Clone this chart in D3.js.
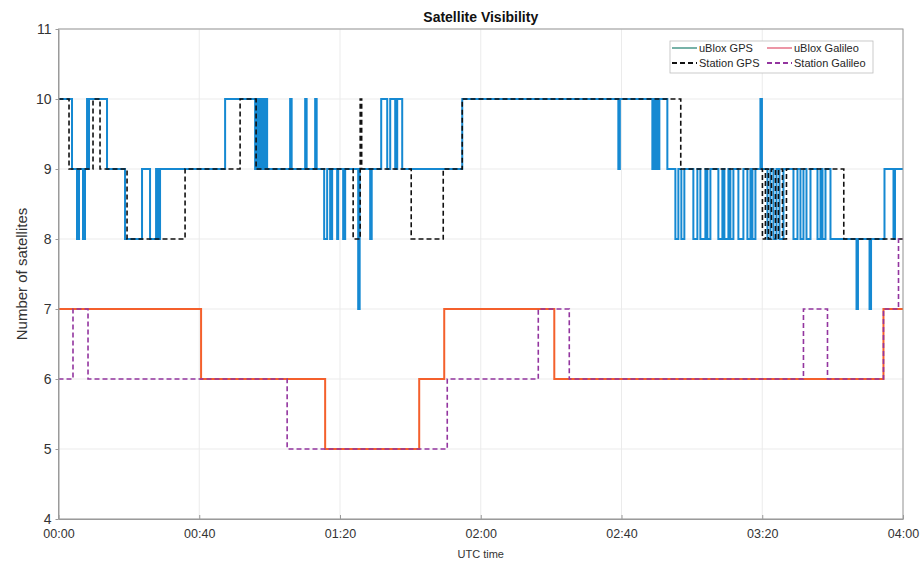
<!DOCTYPE html>
<html>
<head>
<meta charset="utf-8">
<script src="https://cdn.jsdelivr.net/npm/d3@7"></script>
<style>
  body { margin: 0; background: #fff; }
  svg text { font-family: "Liberation Sans", Arial, sans-serif; }
</style>
</head>
<body>
<svg id="chart" width="921" height="565"></svg>
<script>
// minutes after 00:00 UTC where the count changes, and the new count
const ublox_gps_t = [0, 3.84, 5.26, 5.83, 6.97, 7.54, 8.11, 8.39, 8.67, 13.79, 18.91, 23.74, 26.02, 27.73, 28.29, 28.86,
    47.35, 55.88, 56.45, 57.01, 57.58, 58.15, 58.72, 59.29, 65.83, 66.26, 70.10, 70.52, 72.94, 73.37,
    75.50, 76.35, 77.20, 77.77, 79.19, 79.48, 80.90, 81.47, 84.88, 85.17, 85.59, 88.58, 89.01,
    91.71, 93.42, 94.27, 95.69, 96.26, 97.68, 114.74, 159.10, 159.53,
    168.77, 169.19, 169.62, 170.05, 170.47, 170.76, 173.03,
    175.31, 176.16, 177.01, 177.86, 180.42, 181.56, 182.41, 183.84, 184.40, 185.26,
    187.53, 188.67, 189.24, 190.38, 190.95, 191.80, 193.22, 194.64, 195.78, 196.64, 197.21, 198.06,
    199.48, 199.91, 201.48, 202.33, 203.18, 204.04, 204.89, 206.03, 208.87, 210.01, 210.86, 211.71,
    212.57, 213.71, 215.70, 216.55, 217.12, 217.97, 219.39, 226.79, 227.20, 230.49, 230.92,
    234.74, 237.30, 237.72, 240]
const ublox_gps_n = [10, 9, 8, 9, 8, 9, 10, 9, 10, 9, 8, 9, 8, 9, 8, 9,
    10, 9, 10, 9, 10, 9, 10, 9, 10, 9, 10, 9, 10, 9,
    8, 9, 8, 9, 8, 9, 8, 9, 9, 7, 9, 8, 9,
    10, 9, 10, 9, 10, 9, 10, 9, 10,
    9, 10, 9, 10, 9, 10, 9,
    8, 9, 8, 9, 8, 9, 8, 9, 8, 9,
    8, 9, 8, 9, 8, 9, 8, 9, 8, 9, 8, 9,
    10, 9, 8, 9, 8, 9, 8, 9, 8, 9, 8, 9,
    8, 9, 8, 9, 8, 9, 8, 7, 8, 7, 8,
    9, 8, 9, 9]

const station_gps_t = [0, 2.99, 9.81, 11.80, 19.48, 35.97, 51.61, 56.16, 83.74, 85.74, 86.16, 100.24, 109.34, 114.74,
    176.84, 200.05, 200.90, 201.76, 202.61, 203.75, 204.60, 205.74, 206.88, 223.17, 240]
const station_gps_n = [10, 9, 10, 9, 8, 9, 10, 9, 8, 10, 9, 8, 9, 10,
    9, 8, 9, 8, 9, 8, 9, 8, 9, 8, 8]

const ublox_gal_t = [0, 40.52, 75.78, 102.51, 109.62, 140.90, 234.45, 240]
const ublox_gal_n = [7, 6, 5, 6, 7, 6, 7, 7]

const station_gal_t = [0, 4.12, 8.39, 64.98, 110.48, 136.35, 145.16, 211.71, 218.54, 234.45, 238.72, 240]
const station_gal_n = [6, 7, 6, 5, 6, 7, 6, 7, 6, 7, 8, 8]

const x_ticks = [0, 40, 80, 120, 160, 200, 240]
const x_tick_labels = ['00:00', '00:40', '01:20', '02:00', '02:40', '03:20', '04:00']
const y_ticks = [4, 5, 6, 7, 8, 9, 10, 11]

const series = [
    { name: 'uBlox GPS', t: ublox_gps_t, n: ublox_gps_n, color: '#1589d2', width: 2, dash: null, legend_color: '#1b7f6e' },
    { name: 'Station GPS', t: station_gps_t, n: station_gps_n, color: '#111', width: 1.6, dash: '5,3', legend_color: '#111' },
    { name: 'uBlox Galileo', t: ublox_gal_t, n: ublox_gal_n, color: '#f4602c', width: 2, dash: null, legend_color: '#e0506a' },
    { name: 'Station Galileo', t: station_gal_t, n: station_gal_n, color: '#93359f', width: 1.6, dash: '5,3', legend_color: '#93359f' },
]

const plot_left = 58.5, plot_right = 903, plot_top = 29, plot_bottom = 519

const svg = d3.select('#chart')

const x = d3.scaleLinear().domain([0, 240]).range([plot_left, plot_right])
const y = d3.scaleLinear().domain([4, 11]).range([plot_bottom, plot_top])

// 网格
let grid = svg.append('g').attr('class', 'grid')
grid.selectAll('.vgrid')
    .data(x_ticks)
    .join('line')
    .attr('x1', (d) => x(d)).attr('x2', (d) => x(d))
    .attr('y1', plot_top).attr('y2', plot_bottom)
    .attr('stroke', '#ebebeb').attr('stroke-width', 1)
grid.selectAll('.hgrid')
    .data(y_ticks)
    .join('line')
    .attr('x1', plot_left).attr('x2', plot_right)
    .attr('y1', (d) => y(d)).attr('y2', (d) => y(d))
    .attr('stroke', '#ebebeb').attr('stroke-width', 1)

// 曲线
const line = d3.line()
    .x((d) => x(d[0]))
    .y((d) => y(d[1]))
    .curve(d3.curveStepAfter)

const draw_order = [0, 2, 1, 3]
for (let k of draw_order) {
    const s = series[k]
    svg.append('path')
        .datum(s.t.map((t, i) => [t, s.n[i]]))
        .attr('d', line)
        .attr('fill', 'none')
        .attr('stroke', s.color)
        .attr('stroke-width', s.width)
        .attr('stroke-dasharray', s.dash)
}

// 坐标轴
const xAxis = svg.append('g')
    .attr('transform', `translate(0,${plot_bottom})`)
    .call(d3.axisBottom(x).tickValues(x_ticks).tickFormat((d, i) => x_tick_labels[i]).tickSizeInner(-4).tickSizeOuter(0).tickPadding(10))
const yAxis = svg.append('g')
    .attr('transform', `translate(${plot_left},0)`)
    .call(d3.axisLeft(y).tickValues(y_ticks).tickFormat(d3.format('d')).tickSizeInner(3).tickSizeOuter(0).tickPadding(4))
for (let ax of [xAxis, yAxis]) {
    ax.select('.domain').attr('stroke', '#9a9a9a')
    ax.selectAll('.tick line').attr('stroke', '#9a9a9a')
    ax.selectAll('.tick text').attr('fill', '#333')
}
xAxis.selectAll('.tick text').attr('font-size', 12.5)
yAxis.selectAll('.tick text').attr('font-size', 14)
svg.append('rect')
    .attr('x', plot_left).attr('y', plot_top)
    .attr('width', plot_right - plot_left).attr('height', plot_bottom - plot_top)
    .attr('fill', 'none').attr('stroke', '#9a9a9a').attr('stroke-width', 1)

// 标题与轴标签
svg.append('text')
    .attr('x', (plot_left + plot_right) / 2).attr('y', 22)
    .attr('text-anchor', 'middle')
    .attr('font-size', 14).attr('font-weight', 'bold')
    .attr('fill', '#111')
    .text('Satellite Visibility')
svg.append('text')
    .attr('x', (plot_left + plot_right) / 2).attr('y', 558)
    .attr('text-anchor', 'middle')
    .attr('font-size', 11)
    .attr('fill', '#333')
    .text('UTC time')
svg.append('text')
    .attr('transform', `translate(27,${(plot_top + plot_bottom) / 2}) rotate(-90)`)
    .attr('text-anchor', 'middle')
    .attr('font-size', 15)
    .attr('fill', '#333')
    .text('Number of satellites')

// 图例
let legend = svg.append('g').attr('class', 'legend')
legend.append('rect')
    .attr('x', 670).attr('y', 41)
    .attr('width', 203).attr('height', 32)
    .attr('fill', '#fff').attr('stroke', '#bdbdbd').attr('stroke-width', 0.8)
const legend_pos = [[672, 48], [672, 63], [767, 48], [767, 63]]
series.forEach((s, i) => {
    const [lx, ly] = legend_pos[i]
    legend.append('line')
        .attr('x1', lx).attr('x2', lx + 25)
        .attr('y1', ly).attr('y2', ly)
        .attr('stroke', s.legend_color)
        .attr('stroke-width', s.dash ? 1.8 : 1.2)
        .attr('stroke-dasharray', s.dash)
    legend.append('text')
        .attr('x', lx + 27).attr('y', ly + 4)
        .attr('font-size', 11)
        .attr('fill', '#262626')
        .text(s.name)
})
</script>
</body>
</html>
